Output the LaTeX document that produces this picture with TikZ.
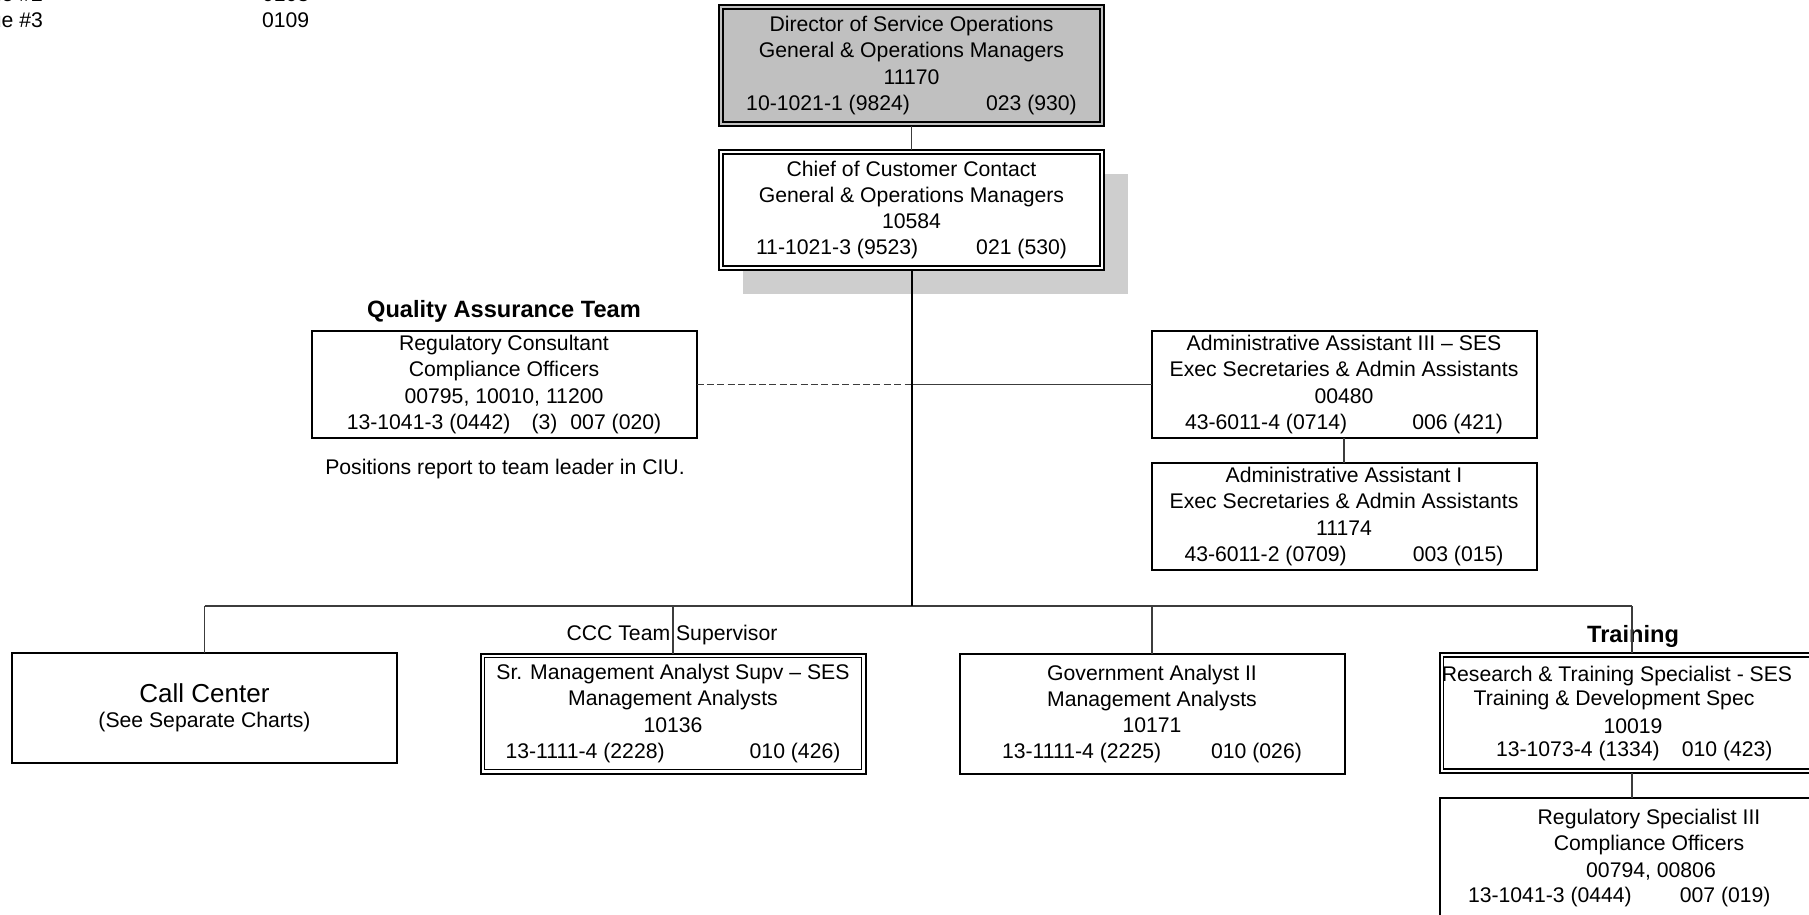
\documentclass[tikz,border=0pt]{standalone}
\usepackage{fontspec}
\setmainfont{Liberation Sans}
\usetikzlibrary{calc,backgrounds}

\definecolor{dirgray}{RGB}{192,192,192}
\definecolor{shadowgray}{RGB}{206,206,206}
\definecolor{linegray}{RGB}{60,60,60}

\begin{document}
\begin{tikzpicture}[x=0.5pt,y=-0.5pt,
  every node/.style={inner sep=0pt, outer sep=0pt},
  txt/.style={font=\fontsize{10.6}{13.15}\selectfont, align=center},
  plain/.style={font=\fontsize{10.6}{13.15}\selectfont},
  grouptitle/.style={font=\fontsize{11.8}{14}\selectfont\bfseries},
  box/.style={draw, line width=1pt, fill=white, minimum width=192.5pt, txt},
  innerline/.style={line width=0.6pt},
  conn/.style={line width=0.6pt, draw=linegray},
  trunk/.style={line width=1pt, draw=black},
  dotconn/.style={line width=0.6pt, draw=linegray, dash pattern=on 3.5pt off 1.7pt}
]
\useasboundingbox (0,0) rectangle (1809,915);

% queue listing in the upper left corner
\node[plain, anchor=base east] (q2) at (43,2) {ue \#2};
\node[plain, anchor=base west] (q2n) at (262,2) {0103};
\node[plain, anchor=base east] (q3) at (43,28) {ue \#3};
\node[plain, anchor=base west] (q3n) at (262,28) {0109};

% director and chief
\node[box, fill=dirgray, minimum height=60.5pt] (dir) at (911.5,65.5)
  {Director of Service Operations\\General \& Operations Managers\\11170\\10-1021-1 (9824)\hspace{38pt}023 (930)};
\draw[innerline] ([shift={(4,4)}]dir.north west) rectangle ([shift={(-4,-4)}]dir.south east);

\node[box, minimum height=60pt] (chief) at (911.5,210)
  {Chief of Customer Contact\\General \& Operations Managers\\10584\\11-1021-3 (9523)\hspace{29pt}021 (530)};
\draw[innerline] ([shift={(4,4)}]chief.north west) rectangle ([shift={(-4,-4)}]chief.south east);
\begin{pgfonlayer}{background}
  \fill[shadowgray] ([shift={(24,24)}]chief.north west) rectangle ([shift={(24,24)}]chief.south east);
\end{pgfonlayer}

\draw[conn] (dir.south) -- (chief.south |- chief.north);

% staff level
\node[grouptitle, anchor=base] (qatitle) at (504,317) {Quality Assurance Team};
\node[box, minimum height=53.5pt] (qa) at (504,384.5)
  {Regulatory Consultant\\Compliance Officers\\00795, 10010, 11200\\13-1041-3 (0442)\hspace{10.5pt}(3)\hspace{6.5pt}007 (020)};
\node[plain, anchor=base] (qanote) at (505,474) {Positions report to team leader in CIU.};

\node[box, minimum height=53.5pt] (adm3) at (1344,384.5)
  {Administrative Assistant III – SES\\Exec Secretaries \& Admin Assistants\\00480\\43-6011-4 (0714)\hspace{32.5pt}006 (421)};
\node[box, minimum height=53.5pt] (adm1) at (1344,516.5)
  {Administrative Assistant I\\Exec Secretaries \& Admin Assistants\\11174\\43-6011-2 (0709)\hspace{33pt}003 (015)};

\coordinate (busL) at (204.5,606);
\coordinate (qj) at (911.5,384.5);
\draw[dotconn] (qa.east) -- (qj);
\draw[conn] (qj) -- (adm3.west);
\draw[conn] (adm3.south) -- (adm1.north);

% unit level
\node[box, minimum height=55pt] (call) at (204.5,708)
  {{\fontsize{13}{16}\selectfont Call Center}\\[-0.6pt](See Separate Charts)};

\node[plain, anchor=base] (ccc) at (672,640) {CCC Team Supervisor};
\node[box, minimum height=60pt] (srm) at (673,713.5)
  {Sr. Management Analyst Supv – SES\\Management Analysts\\10136\\13-1111-4 (2228)\hspace{42.5pt}010 (426)};
\draw[innerline] ([shift={(4,4)}]srm.north west) rectangle ([shift={(-4,-4)}]srm.south east);

\node[box, minimum height=60pt] (gov) at (1152,714)
  {Government Analyst II\\Management Analysts\\10171\\13-1111-4 (2225)\hspace{25pt}010 (026)};

\node[grouptitle, anchor=base] (trtitle) at (1633,642) {Training};
\node[box, minimum height=60pt] (trn) at (1632,713) {};
\draw[innerline] ([shift={(4,4)}]trn.north west) rectangle ([shift={(-4,-4)}]trn.south east);
\node[plain] (trn1) at (1617,676) {Research \& Training Specialist - SES};
\node[plain] (trn2) at (1614,700.5) {Training \& Development Spec};
\node[plain] (trn3) at (1633,726) {10019};
\node[plain, anchor=west] (trn4) at (1496,751) {13-1073-4 (1334)\hspace{11pt}010 (423)};

\node[box, minimum height=60pt] (reg) at (1632,858) {};
\node[plain] (reg1) at (1649,819) {Regulatory Specialist III};
\node[plain] (reg2) at (1649,845) {Compliance Officers};
\node[plain] (reg3) at (1651,871) {00794, 00806};
\node[plain, anchor=west] (reg4) at (1468,897.5) {13-1041-3 (0444)\hspace{24pt}007 (019)};
\draw[conn] (trn.south) -- (reg.north);

% bus and drops
\draw[conn] (call.north |- busL) -- (trn.north |- busL);
\draw[conn] (call.north) -- (call.north |- busL);
\draw[conn] (srm.north) -- (srm.north |- busL);
\draw[conn] (gov.north) -- (gov.north |- busL);
\draw[conn] (trn.north) -- (trn.north |- busL);
\draw[trunk] (chief.south) -- (chief.south |- busL);
\end{tikzpicture}
\end{document}
